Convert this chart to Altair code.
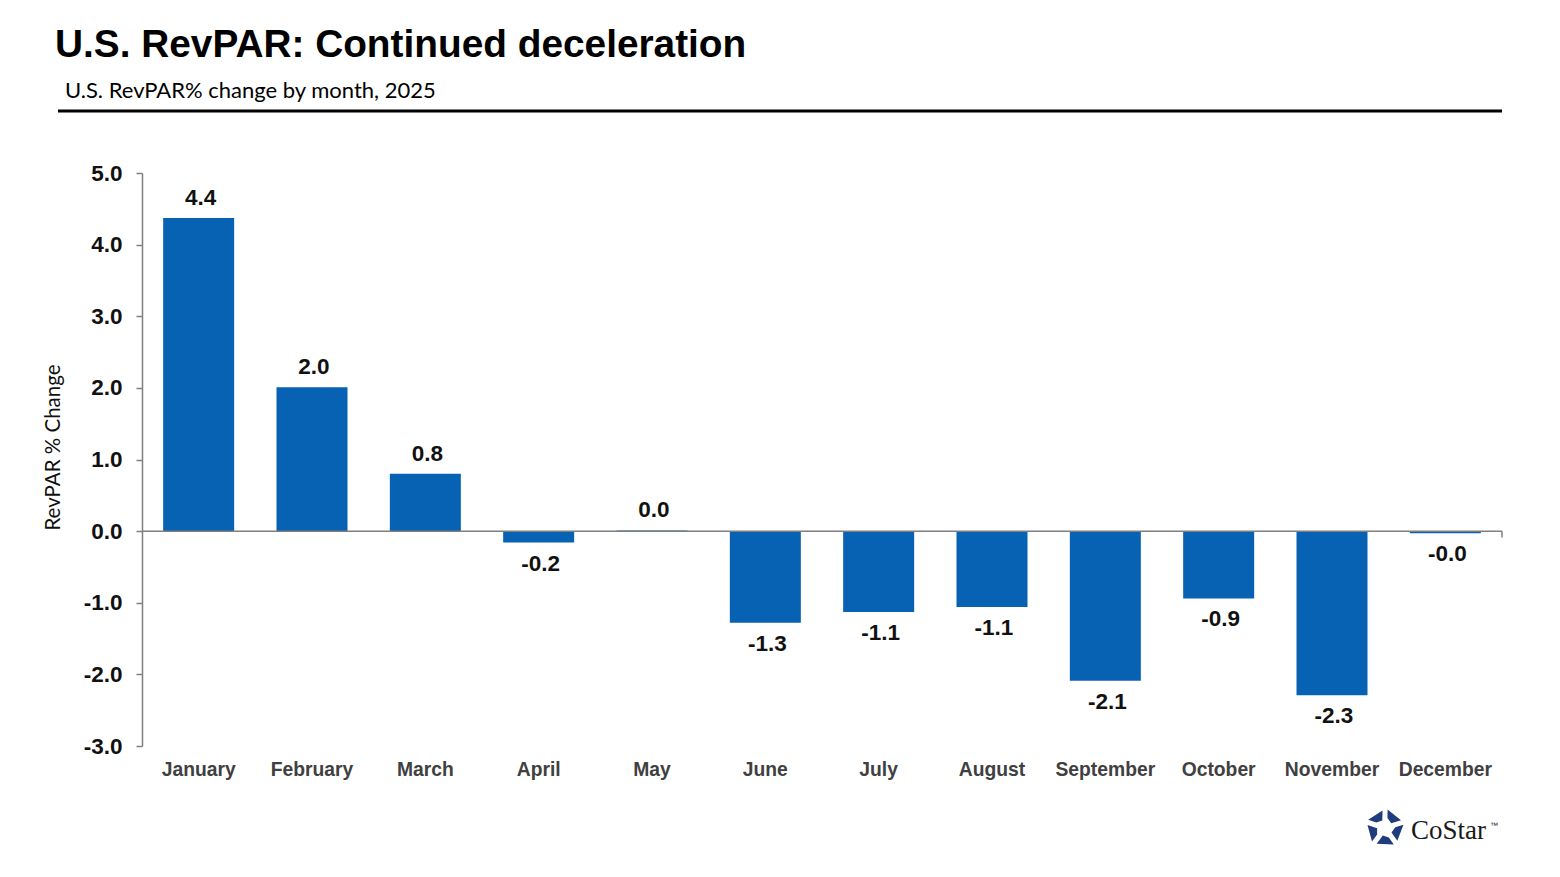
import math
import altair as alt
import pandas as pd

months = ["January", "February", "March", "April", "May", "June", "July",
          "August", "September", "October", "November", "December"]
revpar_change = [4.37, 2.01, 0.80, -0.16, 0.01, -1.28, -1.13, -1.06, -2.09, -0.94, -2.29, -0.03]
labels = [f"{v:.1f}" for v in revpar_change]

title_text = "U.S. RevPAR: Continued deceleration"
subtitle_text = "U.S. RevPAR% change by month, 2025"
y_title = "RevPAR % Change"
y_ticks = [-3, -2, -1, 0, 1, 2, 3, 4, 5]

W, H = 1360, 573
BAR = "#0862B3"
GRAY = "#7f7f7f"

df = pd.DataFrame({"month": months, "value": revpar_change, "label": labels})

x_enc = alt.X("month:N", sort=months,
              scale=alt.Scale(paddingInner=0.37, paddingOuter=0.185),
              axis=alt.Axis(title=None, domain=False, ticks=False, labelAngle=0,
                            labelFont="Liberation Sans", labelFontWeight="bold",
                            labelFontSize=19.3, labelColor="#404040", labelPadding=14))
y_scale = alt.Scale(domain=[-3, 5], nice=False, zero=False)
y_enc = alt.Y("value:Q", scale=y_scale,
              axis=alt.Axis(values=y_ticks, title=y_title,
                            labelExpr="datum.value < 0 ? '-' + format(-datum.value, '.1f') : format(datum.value, '.1f')",
                            labelFont="Liberation Sans", labelFontWeight="bold",
                            labelFontSize=22.5, labelColor="#111111", labelPadding=14,
                            tickSize=6, tickColor=GRAY, tickWidth=1.5,
                            domainColor=GRAY, domainWidth=1.5, grid=False,
                            titleFont="Lato", titleFontWeight="normal", titleFontSize=20.5,
                            titleColor="#111111", titleAngle=270, titleX=-89, titleY=274,
                            titleAlign="center", titleBaseline="middle"))

bars = alt.Chart(df).mark_bar(color=BAR, size=71).encode(
    x=x_enc, y=y_enc, y2=alt.datum(0))

lbl_common = dict(font="Liberation Sans", fontWeight="bold", fontSize=22.5, color="#111111", dx=2)
lbl_pos = alt.Chart(df).transform_filter("datum.value >= 0").mark_text(
    baseline="bottom", dy=-8, **lbl_common).encode(
    x=alt.X("month:N", sort=months), y=alt.Y("value:Q", scale=y_scale), text="label:N")
lbl_neg = alt.Chart(df).transform_filter("datum.value < 0").mark_text(
    baseline="top", dy=10, **lbl_common).encode(
    x=alt.X("month:N", sort=months), y=alt.Y("value:Q", scale=y_scale), text="label:N")

one = pd.DataFrame({"k": [0]})
zero_line = alt.Chart(one).mark_rule(color=GRAY, strokeWidth=1.5).encode(
    y=alt.datum(0), x=alt.value(0), x2=alt.value(W))
end_tick = alt.Chart(one).mark_rule(color=GRAY, strokeWidth=1.5).encode(
    x=alt.value(W), y=alt.datum(0), y2=alt.datum(-0.09))

title = alt.Chart(one).mark_text(text=title_text, align="left", baseline="alphabetic",
                                 font="Liberation Sans", fontWeight="bold", fontSize=38.8,
                                 color="#000000").encode(x=alt.value(-87), y=alt.value(-116))
subtitle = alt.Chart(one).mark_text(text=subtitle_text, align="left", baseline="alphabetic",
                                    font="Lato", fontSize=22, color="#000000").encode(
    x=alt.value(-77), y=alt.value(-75))
hline = alt.Chart(one).mark_rule(color="#000000", strokeWidth=3).encode(
    x=alt.value(-84), x2=alt.value(W), y=alt.value(-62))

# CoStar logo decoration
pieces = []
for k in range(5):
    t = -90 + 72 * k
    pts = [(1.0, t + 8), (0.95, t + 64), (0.42, t + 52), (0.55, t + 14)]
    coords = [(r * math.cos(math.radians(a)), r * math.sin(math.radians(a))) for r, a in pts]
    pieces.append("M" + " L".join(f"{x:.3f},{y:.3f}" for x, y in coords) + " Z")
logo_path = " ".join(pieces)
logo_icon = alt.Chart(one).mark_point(shape=logo_path, filled=True, color="#1f3c7c",
                                      size=1400, opacity=1).encode(
    x=alt.value(1385 - 142), y=alt.value(828 - 173))
logo_text = alt.Chart(one).mark_text(text="CoStar", align="left", baseline="alphabetic",
                                     font="Liberation Serif", fontSize=27, color="#1a1a1a").encode(
    x=alt.value(1411 - 142), y=alt.value(839 - 173))
logo_tm = alt.Chart(one).mark_text(text="™", align="left", baseline="alphabetic",
                                   font="Liberation Sans", fontSize=8, color="#1a1a1a").encode(
    x=alt.value(1490 - 142), y=alt.value(828 - 173))

chart = alt.layer(bars, zero_line, end_tick, lbl_pos, lbl_neg, title, subtitle, hline,
                  logo_icon, logo_text, logo_tm).properties(
    width=W, height=H,
    autosize=alt.AutoSizeParams(type="none"),
    padding={"left": 134, "top": 165, "right": 40, "bottom": 110},
).configure(background="white").configure_view(strokeWidth=0, stroke="transparent")

chart.save("out.html", embed_options={"renderer": "svg", "actions": False})
